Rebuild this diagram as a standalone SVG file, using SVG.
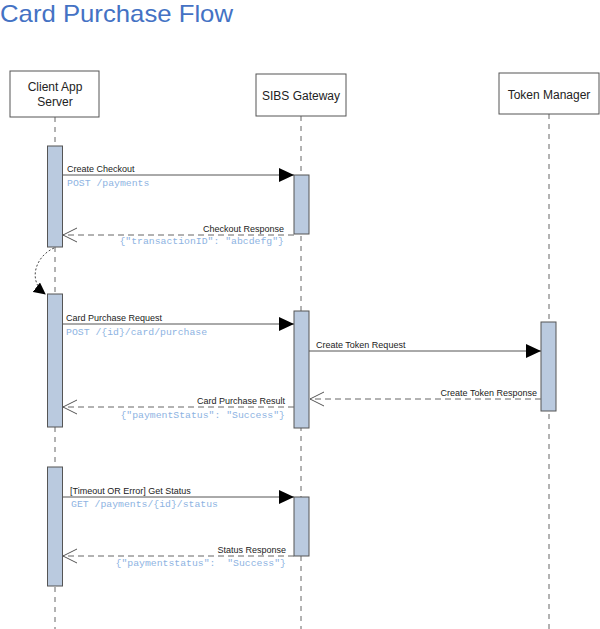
<svg xmlns="http://www.w3.org/2000/svg" width="600" height="629" viewBox="0 0 600 629">
<defs>
<style>
.title{font-family:"Liberation Sans",Arial,sans-serif;font-size:24px;fill:#4472C4;}
.hdr{fill:#fff;stroke:#555;stroke-width:1;}
.hdrt{font-family:"Liberation Sans",Arial,sans-serif;font-size:12px;fill:#222;text-anchor:middle;}
.life{stroke:#666;stroke-width:1;stroke-dasharray:5 5;fill:none;}
.bar{fill:#BACADF;stroke:#555;stroke-width:1;}
.msg{stroke:#555;stroke-width:1;fill:none;}
.ret{stroke:#666;stroke-width:1;stroke-dasharray:6 4;fill:none;}
.lbl{font-family:"Liberation Sans",Arial,sans-serif;font-size:9px;fill:#222;}
.code{font-family:"Liberation Mono","Courier New",monospace;font-size:9.8px;fill:#8DB3E2;white-space:pre;}
.r{text-anchor:end;}
</style>
<marker id="fill" viewBox="0 0 15 14" refX="15" refY="7" markerWidth="15" markerHeight="14" markerUnits="userSpaceOnUse" orient="auto">
<path d="M0,0 L15,7 L0,14 Z" fill="#000"/>
</marker>
<marker id="open" viewBox="0 0 16 16" refX="15" refY="8" markerWidth="16" markerHeight="16" markerUnits="userSpaceOnUse" orient="auto">
<path d="M1,1 L15,8 L1,15" fill="none" stroke="#555" stroke-width="1"/>
</marker>
<marker id="self" viewBox="0 0 12 12" refX="11" refY="6" markerWidth="12" markerHeight="12" markerUnits="userSpaceOnUse" orient="auto">
<path d="M0,0 L12,6 L0,12 Z" fill="#000"/>
</marker>
</defs>
<rect width="600" height="629" fill="#fff"/>
<text class="title" x="0" y="22" textLength="233" lengthAdjust="spacingAndGlyphs">Card Purchase Flow</text>

<g id="lifelines">
<line class="life" x1="55" y1="117" x2="55" y2="629"/>
<line class="life" x1="301" y1="116" x2="301" y2="629"/>
<line class="life" x1="549" y1="114" x2="549" y2="629"/>
</g>

<g id="client">
<rect class="hdr" x="10" y="71" width="89" height="46"/>
<text class="hdrt" x="55" y="91">Client App</text>
<text class="hdrt" x="55" y="106">Server</text>
</g>
<g id="sibs">
<rect class="hdr" x="256" y="74" width="90" height="42"/>
<text class="hdrt" x="301" y="100">SIBS Gateway</text>
</g>
<g id="token">
<rect class="hdr" x="499" y="73" width="100" height="41"/>
<text class="hdrt" x="549" y="99">Token Manager</text>
</g>

<g id="activations">
<rect class="bar" x="47.5" y="146" width="15" height="101"/>
<rect class="bar" x="294" y="175" width="15" height="59"/>
<rect class="bar" x="47.5" y="294" width="15" height="133"/>
<rect class="bar" x="294" y="311" width="15" height="117"/>
<rect class="bar" x="541" y="322" width="15" height="89"/>
<rect class="bar" x="47.5" y="467" width="15" height="119"/>
<rect class="bar" x="294" y="497" width="15" height="59"/>
</g>

<g id="connectors">
<line class="msg" x1="62.5" y1="175" x2="294" y2="175" marker-end="url(#fill)"/>
<line class="ret" x1="294" y1="235" x2="63" y2="235" marker-end="url(#open)"/>
<path d="M54,248 C36,256 27,280 45,294" fill="none" stroke="#444" stroke-width="1" stroke-dasharray="2 2" marker-end="url(#self)"/>
<line class="msg" x1="62.5" y1="324" x2="294" y2="324" marker-end="url(#fill)"/>
<line class="msg" x1="309" y1="351" x2="541" y2="351" marker-end="url(#fill)"/>
<line class="ret" x1="541" y1="399" x2="310" y2="399" marker-end="url(#open)"/>
<line class="ret" x1="294" y1="407" x2="63" y2="407" marker-end="url(#open)"/>
<line class="msg" x1="62.5" y1="497" x2="294" y2="497" marker-end="url(#fill)"/>
<line class="ret" x1="294" y1="556" x2="63" y2="556" marker-end="url(#open)"/>
</g>

<g id="labels">
<text class="lbl" x="67" y="172">Create Checkout</text>
<text class="code" x="67" y="186">POST /payments</text>
<text class="lbl r" x="284" y="232">Checkout Response</text>
<text class="code r" x="284" y="244">{"transactionID": "abcdefg"}</text>
<text class="lbl" x="66" y="321">Card Purchase Request</text>
<text class="code" x="66" y="335">POST /{id}/card/purchase</text>
<text class="lbl" x="316" y="348">Create Token Request</text>
<text class="lbl r" x="537" y="396">Create Token Response</text>
<text class="lbl r" x="285" y="404">Card Purchase Result</text>
<text class="code r" x="285" y="418">{"paymentStatus": "Success"}</text>
<text class="lbl" x="70" y="494">[Timeout OR Error] Get Status</text>
<text class="code" x="71" y="507">GET /payments/{id}/status</text>
<text class="lbl r" x="286" y="553">Status Response</text>
<text class="code r" x="286" y="566" xml:space="preserve">{"paymentstatus":  "Success"}</text>
</g>
</svg>
